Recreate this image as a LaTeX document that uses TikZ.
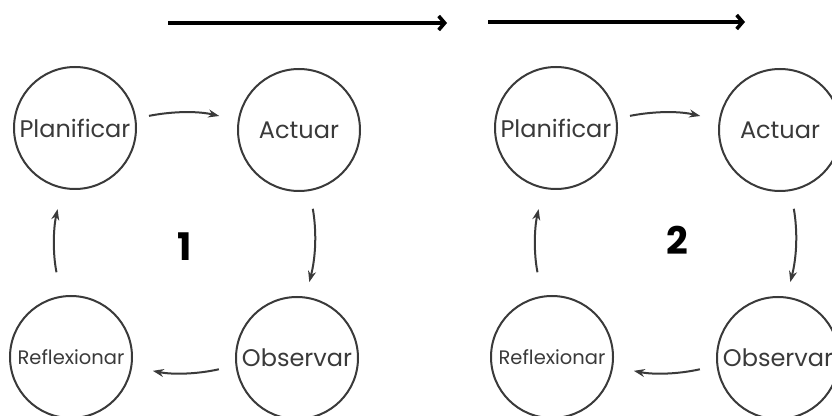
\documentclass[tikz,border=0pt]{standalone}
\usepackage{fontspec}
\setmainfont{Poppins}
\usetikzlibrary{arrows.meta}
\definecolor{inkgray}{HTML}{3A3A3A}

\begin{document}
\begin{tikzpicture}[x=1pt, y=1pt,
  stage/.style={circle, draw=inkgray, line width=2pt, minimum size=122pt, inner sep=0pt, text=inkgray, font=\fontsize{24}{24}\selectfont},
  smallstage/.style={stage, font=\fontsize{19.5}{19.5}\selectfont},
  flow/.style={draw=inkgray, line width=2pt, -{Stealth[length=11pt, width=8pt]}, bend left=12},
  timeline/.style={black, line width=3.6pt, -{Straight Barb[length=6pt, width=14pt]}},
  cyclenum/.style={font=\fontsize{38}{38}\selectfont\bfseries}]
\useasboundingbox (0,0) rectangle (832,415);
\clip (0,0) rectangle (832,415);

% timeline arrows
\coordinate (t1s) at (168,392);
\coordinate (t1e) at (447,392);
\coordinate (t2s) at (488,393);
\coordinate (t2e) at (745,393);
\draw[timeline] (t1s) -- (t1e);
\draw[timeline] (t2s) -- (t2e);

% cycle 1
\node[stage] (P1) at (75,287) {Planificar};
\node[stage] (A1) at (299,285) {Actuar};
\node[stage] (O1) at (297,57) {Observar};
\node[smallstage] (R1) at (71,58) {Reflexionar};
\node[cyclenum] (N1) at (185,168) {1};
\draw[flow, shorten <=13pt, shorten >=19pt] (P1.9) to (A1.171);
\draw[flow, shorten <=18pt, shorten >=15pt] (A1.280) to (O1.82);
\draw[flow, shorten <=17pt, shorten >=21pt] (O1.187) to (R1.351);
\draw[flow, shorten <=24pt, shorten >=21pt] (R1.99) to (P1.258);

% cycle 2
\node[stage] (P2) at (556,287) {Planificar};
\node[stage] (A2) at (780,285) {Actuar};
\node[stage] (O2) at (778,57) {Observar};
\node[smallstage] (R2) at (552,58) {Reflexionar};
\node[cyclenum] (N2) at (677,175) {2};
\draw[flow, shorten <=13pt, shorten >=19pt] (P2.9) to (A2.171);
\draw[flow, shorten <=18pt, shorten >=15pt] (A2.280) to (O2.82);
\draw[flow, shorten <=17pt, shorten >=21pt] (O2.187) to (R2.351);
\draw[flow, shorten <=24pt, shorten >=21pt] (R2.99) to (P2.258);

\end{tikzpicture}
\end{document}
